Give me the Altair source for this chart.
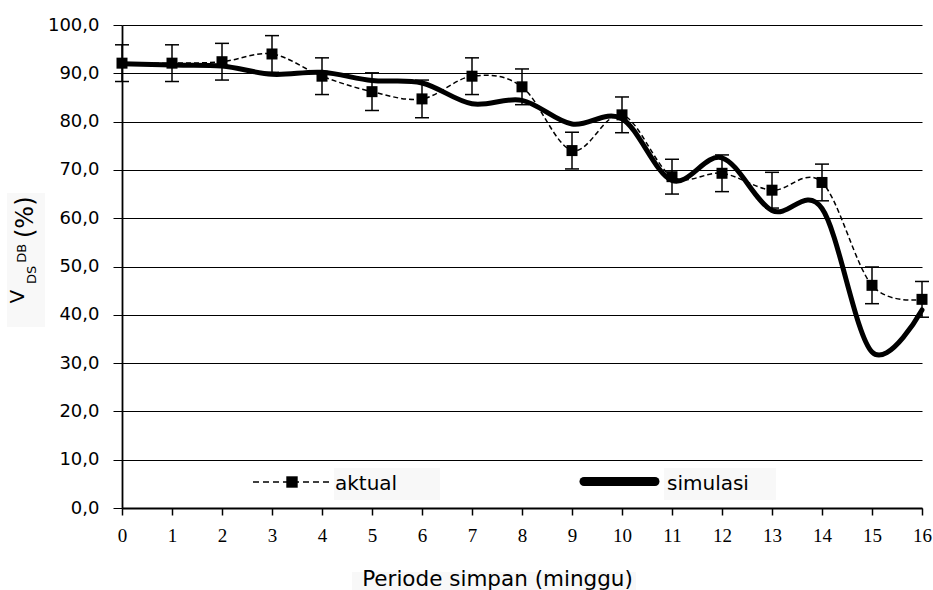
import altair as alt
import pandas as pd

# ---- data ----
weeks = list(range(17))
aktual = [92.1, 92.1, 92.4, 94.0, 89.4, 86.2, 84.7, 89.4, 87.2, 74.0, 81.4,
          68.6, 69.3, 65.8, 67.4, 46.1, 43.2]
aktual_err = [3.8, 3.8, 3.8, 3.8, 3.8, 3.9, 3.9, 3.8, 3.7, 3.8, 3.7,
              3.6, 3.8, 3.7, 3.8, 3.8, 3.7]
simulasi = [92.0, 91.7, 91.5, 89.8, 90.2, 88.5, 88.0, 83.7, 84.4, 79.5, 80.6,
            67.8, 72.5, 61.6, 62.0, 32.3, 41.0]
y_ticks = list(range(0, 101, 10))

df = pd.DataFrame({
    "minggu": weeks,
    "aktual": aktual,
    "lo": [a - e for a, e in zip(aktual, aktual_err)],
    "hi": [a + e for a, e in zip(aktual, aktual_err)],
    "simulasi": simulasi,
})

x_axis = alt.Axis(values=weeks, title=None, grid=False,
                  domainColor="black", domainWidth=1.8, tickColor="black",
                  tickWidth=1.5, tickSize=7, labelFont="Liberation Serif",
                  labelFontSize=19, labelColor="black", labelPadding=26,
                  labelBaseline="alphabetic", labelFlush=False)
y_axis = alt.Axis(values=y_ticks, title=None, grid=True, gridColor="black",
                  gridWidth=1, domainColor="black", domainWidth=1.8,
                  tickColor="black", tickWidth=1, tickSize=9,
                  labelFont="DejaVu Sans", labelFontSize=18, labelColor="black",
                  labelPadding=14, labelFlush=False,
                  labelExpr="replace(format(datum.value, '.1f'), '.', ',')")

xs = alt.Scale(domain=[0, 16], nice=False, zero=False)
ys = alt.Scale(domain=[0, 100], nice=False)

def X():
    return alt.X("minggu:Q", scale=xs, axis=x_axis)

def Y(field):
    return alt.Y(f"{field}:Q", scale=ys, axis=y_axis)

base = alt.Chart(df)

sim_line = base.mark_line(color="black", strokeWidth=5, interpolate="cardinal",
                          strokeCap="round", strokeJoin="round").encode(
    x=X(), y=Y("simulasi"))

err_rule = base.mark_rule(color="black", strokeWidth=1.5).encode(
    x=X(), y=Y("lo"), y2="hi:Q")
cap_lo = base.mark_tick(color="black", orient="horizontal", size=14,
                        thickness=1.5, opacity=1).encode(x=X(), y=Y("lo"))
cap_hi = base.mark_tick(color="black", orient="horizontal", size=14,
                        thickness=1.5, opacity=1).encode(x=X(), y=Y("hi"))

akt_line = base.mark_line(color="black", strokeWidth=1.5, strokeDash=[5, 3],
                          interpolate="cardinal").encode(x=X(), y=Y("aktual"))
akt_pts = base.mark_square(color="black", size=121, opacity=1).encode(
    x=X(), y=Y("aktual"))

# ---- annotations (legend, axis titles, faint label boxes) ----
one = pd.DataFrame({"k": [0]})
ann = alt.Chart(one)

def box(x1, x2, y1, y2):
    return ann.mark_rect(color="#f8f8f8").encode(
        x=alt.value(x1), x2=alt.value(x2), y=alt.value(y1), y2=alt.value(y2))

boxes = [box(212, 318, 443, 475), box(542, 654, 443, 475),
         box(230, 514, 547, 565), box(-115, -77, 168, 302)]

leg_dash = ann.mark_rule(color="black", strokeWidth=1.5, strokeDash=[6, 4]).encode(
    x=alt.value(131), x2=alt.value(210), y=alt.value(457))
leg_sq = ann.mark_square(color="black", size=130, opacity=1).encode(
    x=alt.value(170), y=alt.value(457))
leg_akt = ann.mark_text(font="DejaVu Sans", fontSize=20, align="left",
                        baseline="alphabetic", color="black").encode(
    x=alt.value(213), y=alt.value(464.5), text=alt.value("aktual"))
leg_thick = ann.mark_rule(color="black", strokeWidth=9, strokeCap="round").encode(
    x=alt.value(462), x2=alt.value(533), y=alt.value(456.5))
leg_sim = ann.mark_text(font="DejaVu Sans", fontSize=20, align="left",
                        baseline="alphabetic", color="black").encode(
    x=alt.value(545), y=alt.value(464.5), text=alt.value("simulasi"))

x_title = ann.mark_text(font="DejaVu Sans", fontSize=21.5, align="center",
                        baseline="alphabetic", color="black").encode(
    x=alt.value(375.5), y=alt.value(561), text=alt.value("Periode simpan (minggu)"))

def ytxt(txt, size, xv, yv):
    return ann.mark_text(font="DejaVu Sans", fontSize=size, angle=270,
                         align="left", baseline="alphabetic",
                         color="black").encode(
        x=alt.value(xv), y=alt.value(yv), text=alt.value(txt))

ytitle = [ytxt("V", 20, -98, 278.5), ytxt("DS", 13, -86, 259),
          ytxt("DB", 13, -96, 237.7), ytxt("(%)", 24, -89, 213)]

chart = alt.layer(
    *boxes, sim_line, err_rule, cap_lo, cap_hi, akt_line, akt_pts,
    leg_dash, leg_sq, leg_akt, leg_thick, leg_sim, x_title, *ytitle
).properties(
    width=800, height=483,
    autosize=alt.AutoSizeParams(type="none"),
    padding={"left": 122, "top": 25, "right": 11, "bottom": 82},
    background="white",
).configure_view(stroke="transparent")

chart.save("out.html", embed_options={"renderer": "svg", "actions": False})
